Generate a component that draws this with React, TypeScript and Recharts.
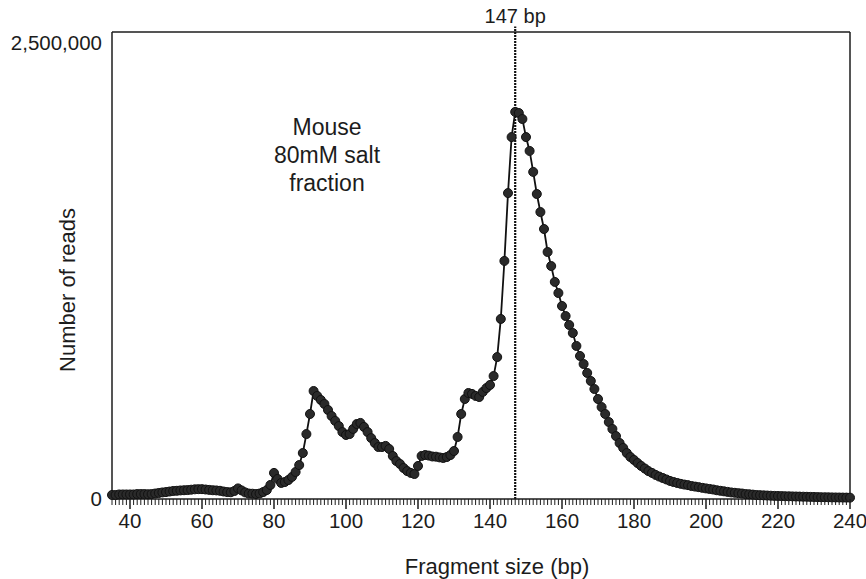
import * as React from "react";
import { LineChart, Line, XAxis, YAxis, ReferenceLine } from "recharts";

// fragment sizes run 1 bp apart starting here
const START_BP = 35;

// number of reads per fragment size, 35..240 bp
const READS = [
  22000, 22000, 25000, 25000, 25000, 25000, 25000, 27000, 27000, 27000,
  26000, 27000, 30000, 33000, 36000, 38000, 41000, 44000, 45000, 47000,
  48000, 49000, 51000, 53000, 54000, 54000, 52000, 50000, 48000, 47000,
  45000, 41000, 38000, 37000, 44000, 58000, 47000, 36000, 30000, 29000,
  27000, 30000, 38000, 49000, 77000, 143000, 110000, 88000, 93000, 104000,
  121000, 148000, 186000, 252000, 356000, 466000, 592000, 565000, 543000, 521000,
  488000, 455000, 428000, 400000, 367000, 351000, 356000, 384000, 411000, 417000,
  395000, 367000, 334000, 307000, 285000, 285000, 291000, 274000, 236000, 208000,
  192000, 170000, 153000, 143000, 137000, 181000, 236000, 241000, 238000, 233000,
  232000, 228000, 225000, 230000, 241000, 263000, 340000, 466000, 548000, 581000,
  576000, 565000, 559000, 587000, 608000, 625000, 674000, 778000, 987000, 1305000,
  1677000, 1984000, 2122000, 2116000, 2083000, 1984000, 1908000, 1793000, 1672000, 1573000,
  1480000, 1354000, 1277000, 1190000, 1129000, 1058000, 1003000, 954000, 910000, 839000,
  784000, 740000, 691000, 647000, 603000, 548000, 504000, 466000, 422000, 384000,
  345000, 307000, 280000, 252000, 230000, 214000, 197000, 181000, 167000, 153000,
  143000, 132000, 123000, 115000, 107000, 99000, 93000, 88000, 83000, 79000,
  76000, 71000, 68000, 65000, 61000, 58000, 55000, 52000, 48000, 45000,
  42000, 39000, 36000, 34000, 32000, 30000, 27000, 26000, 24000, 22000,
  21000, 20000, 19000, 18000, 17000, 16400, 15900, 15300, 14800, 14300,
  13700, 13200, 12600, 12100, 11500, 11000, 10400, 9900, 9600, 9300,
  8800, 8500, 8200, 7900, 7700, 7400,
];

const X_DOMAIN: [number, number] = [35, 240];
const X_MAJOR = [40, 60, 80, 100, 120, 140, 160, 180, 200, 220, 240];
const Y_MAX = 2560000; // box top sits a bit above the 2.5M tick
const Y_TICKS = [0, 2500000];
const PEAK_BP = 147;
const PEAK_LABEL = "147 bp";
const NOTE_LINES = ["Mouse", "80mM salt", "fraction"];
const X_TITLE = "Fragment size (bp)";
const Y_TITLE = "Number of reads";

const INK = "#1c1c1c";
const FONT = '"Liberation Sans", Arial, Helvetica, sans-serif';

const data = READS.map((reads, i) => ({ bp: START_BP + i, reads }));

// minor tick every 1 bp, labelled major tick every 20 bp
const xTicks: number[] = [];
for (let v = X_DOMAIN[0]; v <= X_DOMAIN[1]; v++) xTicks.push(v);

function XTick(props: any) {
  const { x, y, payload } = props;
  const v = payload.value as number;
  const major = X_MAJOR.includes(v);
  return (
    <g>
      <line x1={x} x2={x} y1={y} y2={y + (major ? 10 : 6)} stroke={INK} strokeWidth={major ? 1.5 : 1} />
      {major && (
        <text x={x} y={y + 29} textAnchor="middle" fontSize={20.5} fill={INK} fontFamily={FONT}>
          {v}
        </text>
      )}
    </g>
  );
}

export default function App() {
  return (
    <div
      style={{
        position: "absolute",
        left: 0,
        top: 0,
        width: 866,
        height: 579,
        background: "#fff",
        fontFamily: FONT,
        color: INK,
      }}
    >
      <LineChart width={866} height={579} data={data} margin={{ top: 32, right: 16, bottom: 30, left: 12 }}>
        <XAxis
          dataKey="bp"
          type="number"
          domain={X_DOMAIN}
          ticks={xTicks}
          interval={0}
          tick={<XTick />}
          tickLine={false}
          tickSize={0}
          tickMargin={0}
          height={50}
          axisLine={{ stroke: INK, strokeWidth: 1.5 }}
        />
        <YAxis
          type="number"
          domain={[0, Y_MAX]}
          ticks={Y_TICKS}
          interval={0}
          width={100}
          tickLine={false}
          tickSize={0}
          tickMargin={10}
          tickFormatter={(v: number) => v.toLocaleString("en-US")}
          tick={{ fontSize: 20.5, fill: INK, fontFamily: FONT }}
          axisLine={{ stroke: INK, strokeWidth: 1.5 }}
        />
        {/* box: top and right edges */}
        <ReferenceLine y={Y_MAX} stroke={INK} strokeWidth={1.5} />
        <ReferenceLine x={X_DOMAIN[1]} stroke={INK} strokeWidth={1.5} />
        {/* nucleosome peak marker, pokes out above the box */}
        <ReferenceLine
          segment={[
            { x: PEAK_BP, y: 0 },
            { x: PEAK_BP, y: 2590000 },
          ]}
          ifOverflow="visible"
          stroke="#111"
          strokeWidth={2.2}
          strokeDasharray="2 1"
          label={{ value: PEAK_LABEL, position: "top", offset: 4, fontSize: 20, fill: INK, fontFamily: FONT }}
        />
        <Line
          type="linear"
          dataKey="reads"
          stroke="#111"
          strokeWidth={1.8}
          dot={{ r: 4.5, fill: "#2a2a2a", stroke: "#111", strokeWidth: 1 }}
          isAnimationActive={false}
        />
      </LineChart>

      <div
        style={{
          position: "absolute",
          left: 227,
          top: 113,
          width: 200,
          textAlign: "center",
          fontSize: 23,
          lineHeight: "28px",
        }}
      >
        {NOTE_LINES.map((t) => (
          <div key={t}>{t}</div>
        ))}
      </div>

      <div
        style={{
          position: "absolute",
          left: 68,
          top: 290,
          transform: "translate(-50%, -50%) rotate(-90deg)",
          whiteSpace: "nowrap",
          fontSize: 22,
        }}
      >
        {Y_TITLE}
      </div>

      <div
        style={{
          position: "absolute",
          left: 497,
          top: 567,
          transform: "translate(-50%, -50%)",
          whiteSpace: "nowrap",
          fontSize: 22,
        }}
      >
        {X_TITLE}
      </div>
    </div>
  );
}
